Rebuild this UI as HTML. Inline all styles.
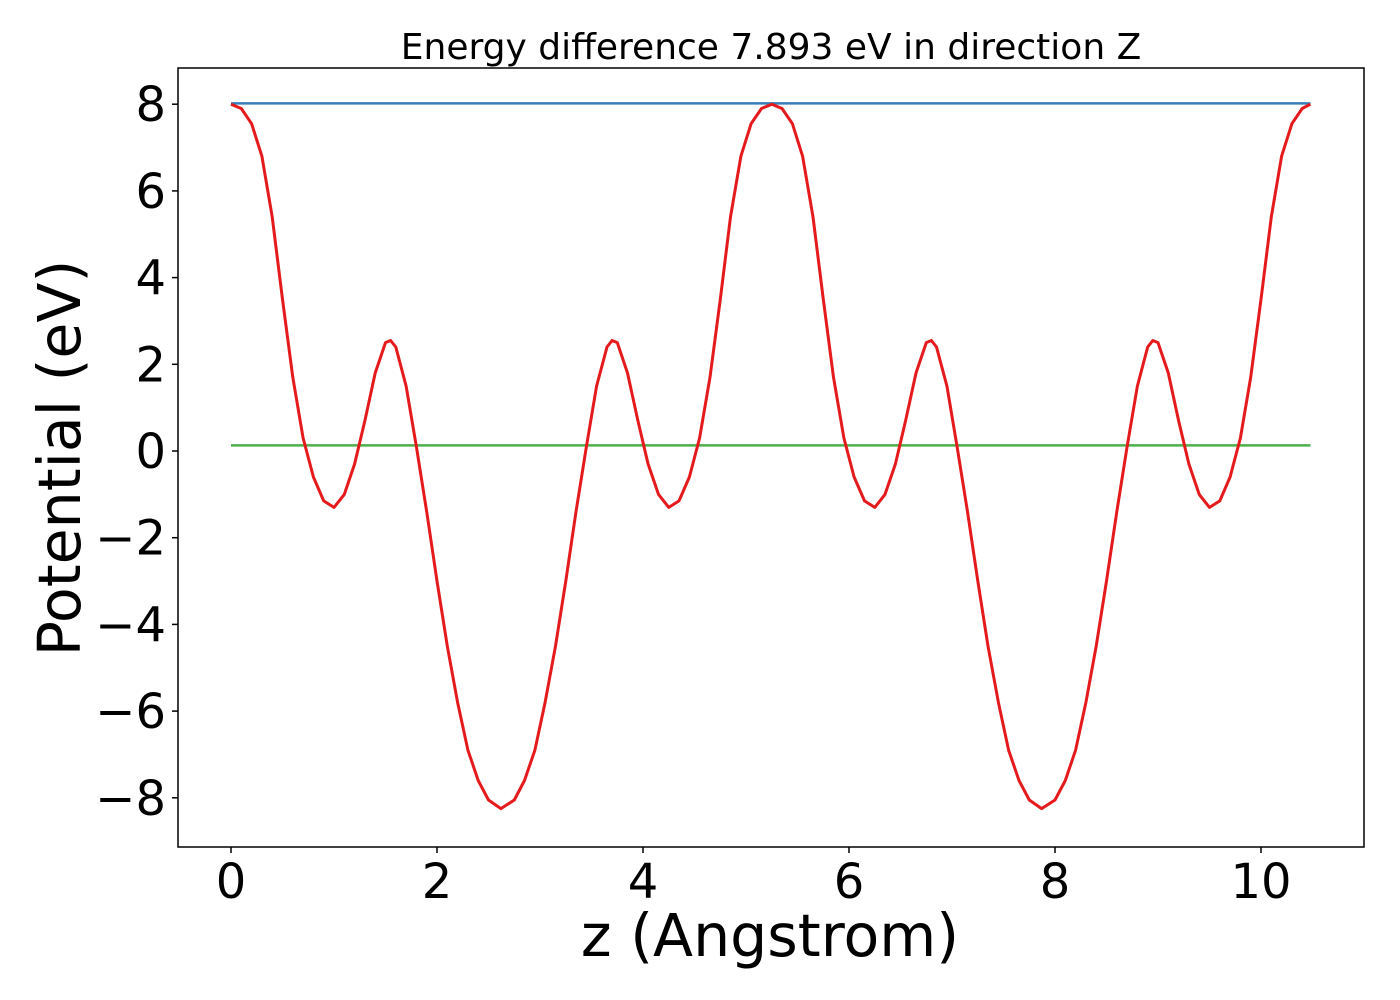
<!DOCTYPE html>
<html><head><meta charset="utf-8"><style>
html,body{margin:0;padding:0;background:#fff;}
svg{display:block;font-family:"DejaVu Sans","Liberation Sans",sans-serif;}
</style></head><body>
<svg id="chart" width="1400" height="1000" viewBox="0 0 1400 1000">
<rect x="0" y="0" width="1400" height="1000" fill="#fff"/>
<text x="771" y="59" font-size="36" text-anchor="middle">Energy difference 7.893 eV in direction Z</text>
<g id="xticks"></g>
<g id="yticks"></g>
<g id="lines"></g>
<rect x="178" y="68" width="1186" height="779" fill="none" stroke="#000" stroke-width="1.5"/>
<text x="770" y="956" font-size="58.5" text-anchor="middle">z (Angstrom)</text>
<text transform="translate(80,458) rotate(-90)" font-size="58.5" text-anchor="middle">Potential (eV)</text>
</svg>
<script>
const zValues = [0.00,0.10,0.20,0.30,0.40,0.50,0.60,0.70,0.80,0.90,1.00,1.10,1.20,1.30,1.40,1.50,1.55,1.60,1.70,1.80,1.90,2.00,2.10,2.20,2.30,2.40,2.50,2.62,2.75,2.85,2.95,3.05,3.15,3.25,3.35,3.45,3.55,3.65,3.70,3.75,3.85,3.95,4.05,4.15,4.25,4.35,4.45,4.55,4.65,4.75,4.85,4.95,5.05,5.15,5.25,5.35,5.45,5.55,5.65,5.75,5.85,5.95,6.05,6.15,6.25,6.35,6.45,6.55,6.65,6.75,6.80,6.85,6.95,7.05,7.15,7.25,7.35,7.45,7.55,7.65,7.75,7.87,8.00,8.10,8.20,8.30,8.40,8.50,8.60,8.70,8.80,8.90,8.95,9.00,9.10,9.20,9.30,9.40,9.50,9.60,9.70,9.80,9.90,10.00,10.10,10.20,10.30,10.40,10.48];
const potential = [8.0,7.9,7.55,6.8,5.4,3.5,1.7,0.3,-0.6,-1.15,-1.3,-1.0,-0.3,0.7,1.8,2.5,2.55,2.4,1.5,0.1,-1.4,-3.0,-4.5,-5.8,-6.9,-7.6,-8.05,-8.25,-8.05,-7.6,-6.9,-5.8,-4.5,-3.0,-1.4,0.1,1.5,2.4,2.55,2.5,1.8,0.7,-0.3,-1.0,-1.3,-1.15,-0.6,0.3,1.7,3.5,5.4,6.8,7.55,7.9,8.0,7.9,7.55,6.8,5.4,3.5,1.7,0.3,-0.6,-1.15,-1.3,-1.0,-0.3,0.7,1.8,2.5,2.55,2.4,1.5,0.1,-1.4,-3.0,-4.5,-5.8,-6.9,-7.6,-8.05,-8.25,-8.05,-7.6,-6.9,-5.8,-4.5,-3.0,-1.4,0.1,1.5,2.4,2.55,2.5,1.8,0.7,-0.3,-1.0,-1.3,-1.15,-0.6,0.3,1.7,3.5,5.4,6.8,7.55,7.9,8.0];
const maxLevel = [8.02];
const meanLevel = [0.13];
const xTicks = [0,2,4,6,8,10];
const yTicks = [8,6,4,2,0,-2,-4,-6,-8];
const NS = "http://www.w3.org/2000/svg";
function X(v){return 231 + v*103;}
function Y(v){return 451 - v*43.35;}
function mk(tag, attrs, parent){const e=document.createElementNS(NS,tag);for(const k in attrs)e.setAttribute(k,attrs[k]);parent.appendChild(e);return e;}
const gx=document.getElementById('xticks'), gy=document.getElementById('yticks'), gl=document.getElementById('lines');
xTicks.forEach(t=>{
  const l=mk('line',{x1:X(t),x2:X(t),y1:847,y2:853,stroke:'#000','stroke-width':1.5},gx);
  
  
  const tx=mk('text',{x:X(t),y:898,'font-size':48,'text-anchor':'middle'},gx);
  tx.textContent=String(t);
  
  
});
yTicks.forEach(t=>{
  const l=mk('line',{x1:172,x2:178,y1:Y(t),y2:Y(t),stroke:'#000','stroke-width':1.5},gy);
  
  
  const tx=mk('text',{x:166,y:Y(t)+17,'font-size':48,'text-anchor':'end'},gy);
  tx.textContent=(t<0?'\u2212':'')+Math.abs(t);
  
  
});
const zMin=zValues[0], zMax=zValues[zValues.length-1];
const blue=mk('line',{x1:X(zMin),x2:X(zMax),y1:Y(maxLevel[0]),y2:Y(maxLevel[0]),stroke:'#377eb8','stroke-width':2.5},gl);


const green=mk('line',{x1:X(zMin),x2:X(zMax),y1:Y(meanLevel[0]),y2:Y(meanLevel[0]),stroke:'#4daf4a','stroke-width':2.5},gl);


const pts=zValues.map((z,i)=>X(z).toFixed(1)+','+Y(potential[i]).toFixed(1)).join(' ');
const red=mk('polyline',{points:pts,fill:'none',stroke:'#e41a1c','stroke-width':3,'stroke-linejoin':'round'},gl);


</script>
</body></html>
